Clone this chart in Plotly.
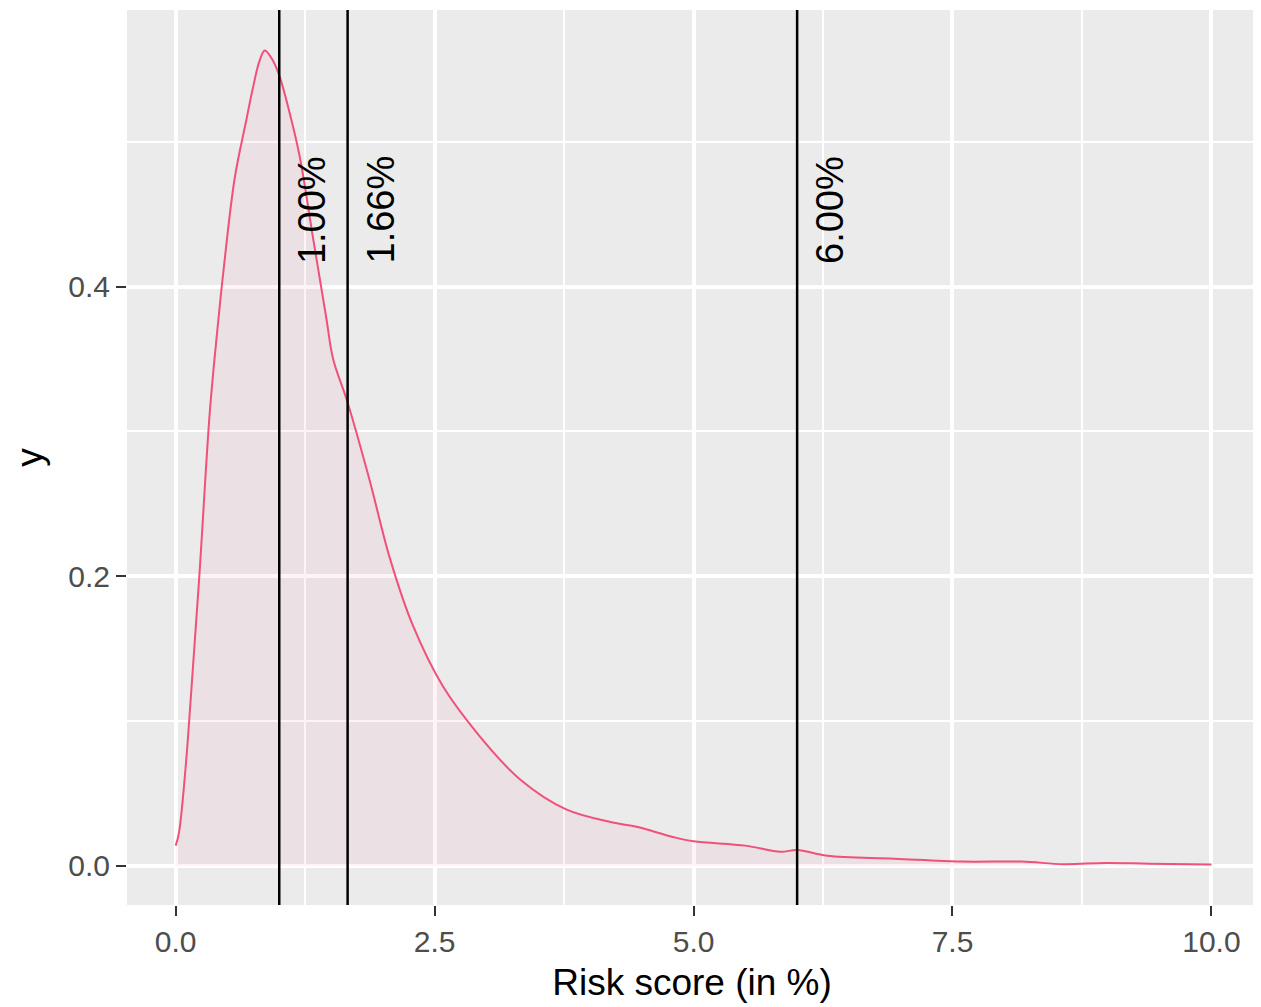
import plotly.graph_objects as go

# Density curve (x = risk score in %, y = density)
risk_x = [0.0, 0.032, 0.097, 0.145, 0.23, 0.33, 0.405, 0.46, 0.57, 0.682, 0.745, 0.81, 0.86,
          0.94, 1.004, 1.10, 1.197, 1.33, 1.455, 1.52, 1.66, 1.87, 2.07, 2.29, 2.58, 2.93,
          3.32, 3.77, 4.22, 4.45, 4.80, 5.0, 5.5, 5.84, 6.0, 6.29, 6.94, 7.6, 8.17, 8.57,
          8.98, 9.4, 10.0]
density_y = [0.014, 0.023, 0.069, 0.115, 0.202, 0.314, 0.372, 0.410, 0.475, 0.515, 0.537, 0.556, 0.563,
             0.556, 0.545, 0.520, 0.490, 0.432, 0.378, 0.350, 0.320, 0.267, 0.212, 0.166, 0.124, 0.090,
             0.060, 0.039, 0.030, 0.027, 0.020, 0.017, 0.014, 0.0097, 0.011, 0.007, 0.005, 0.003, 0.003, 0.0012,
             0.002, 0.0015, 0.001]

thresholds = [1.00, 1.66, 6.00]
threshold_labels = ["1.00%", "1.66%", "6.00%"]
label_y = 0.453

x_ticks = [0.0, 2.5, 5.0, 7.5, 10.0]
x_ticklabels = ["0.0", "2.5", "5.0", "7.5", "10.0"]
y_ticks = [0.0, 0.2, 0.4]
y_ticklabels = ["0.0", "0.2", "0.4"]

FONT = "Liberation Sans, Arial, Helvetica, sans-serif"

fig = go.Figure()
fig.add_trace(go.Scatter(
    x=risk_x, y=density_y, mode="lines",
    line=dict(color="#F0507A", width=2, shape="spline", smoothing=1.0),
    fill="tozeroy", fillcolor="rgba(240,80,122,0.07)",
    showlegend=False, hoverinfo="skip",
))

for v, lab in zip(thresholds, threshold_labels):
    fig.add_shape(type="line", x0=v, x1=v, xref="x", y0=0, y1=1, yref="y domain",
                  line=dict(color="black", width=2.5), layer="above")
    fig.add_annotation(x=v, y=label_y, xref="x", yref="y", text=lab, textangle=-90,
                       showarrow=False, xshift=33, xanchor="center", yanchor="middle",
                       font=dict(family=FONT, size=38, color="black"))

axis_common = dict(
    showgrid=True, gridcolor="white", gridwidth=3.5, zeroline=False,
    ticks="outside", ticklen=10, tickwidth=2, tickcolor="#333333",
    tickfont=dict(family=FONT, size=30, color="#4D4D4D"),
    showline=False, automargin=False,
)

fig.update_layout(
    width=1261, height=1007,
    margin=dict(l=119, r=12, t=2, b=110),
    paper_bgcolor="white", plot_bgcolor="#EBEBEB",
    xaxis=dict(range=[-0.47, 10.44], tickvals=x_ticks, ticktext=x_ticklabels,
               minor=dict(tickvals=[1.25, 3.75, 6.25, 8.75], showgrid=True,
                          gridcolor="white", gridwidth=1.8, ticks=""),
               title=dict(text="Risk score (in %)", standoff=12,
                          font=dict(family=FONT, size=37, color="black")),
               **axis_common),
    yaxis=dict(range=[-0.027, 0.591], tickvals=y_ticks, ticktext=y_ticklabels,
               minor=dict(tickvals=[0.1, 0.3, 0.5], showgrid=True,
                          gridcolor="white", gridwidth=1.8, ticks=""),
               title=dict(text="y", standoff=14,
                          font=dict(family=FONT, size=37, color="black")),
               **axis_common),
)

fig.write_html("out.html")
